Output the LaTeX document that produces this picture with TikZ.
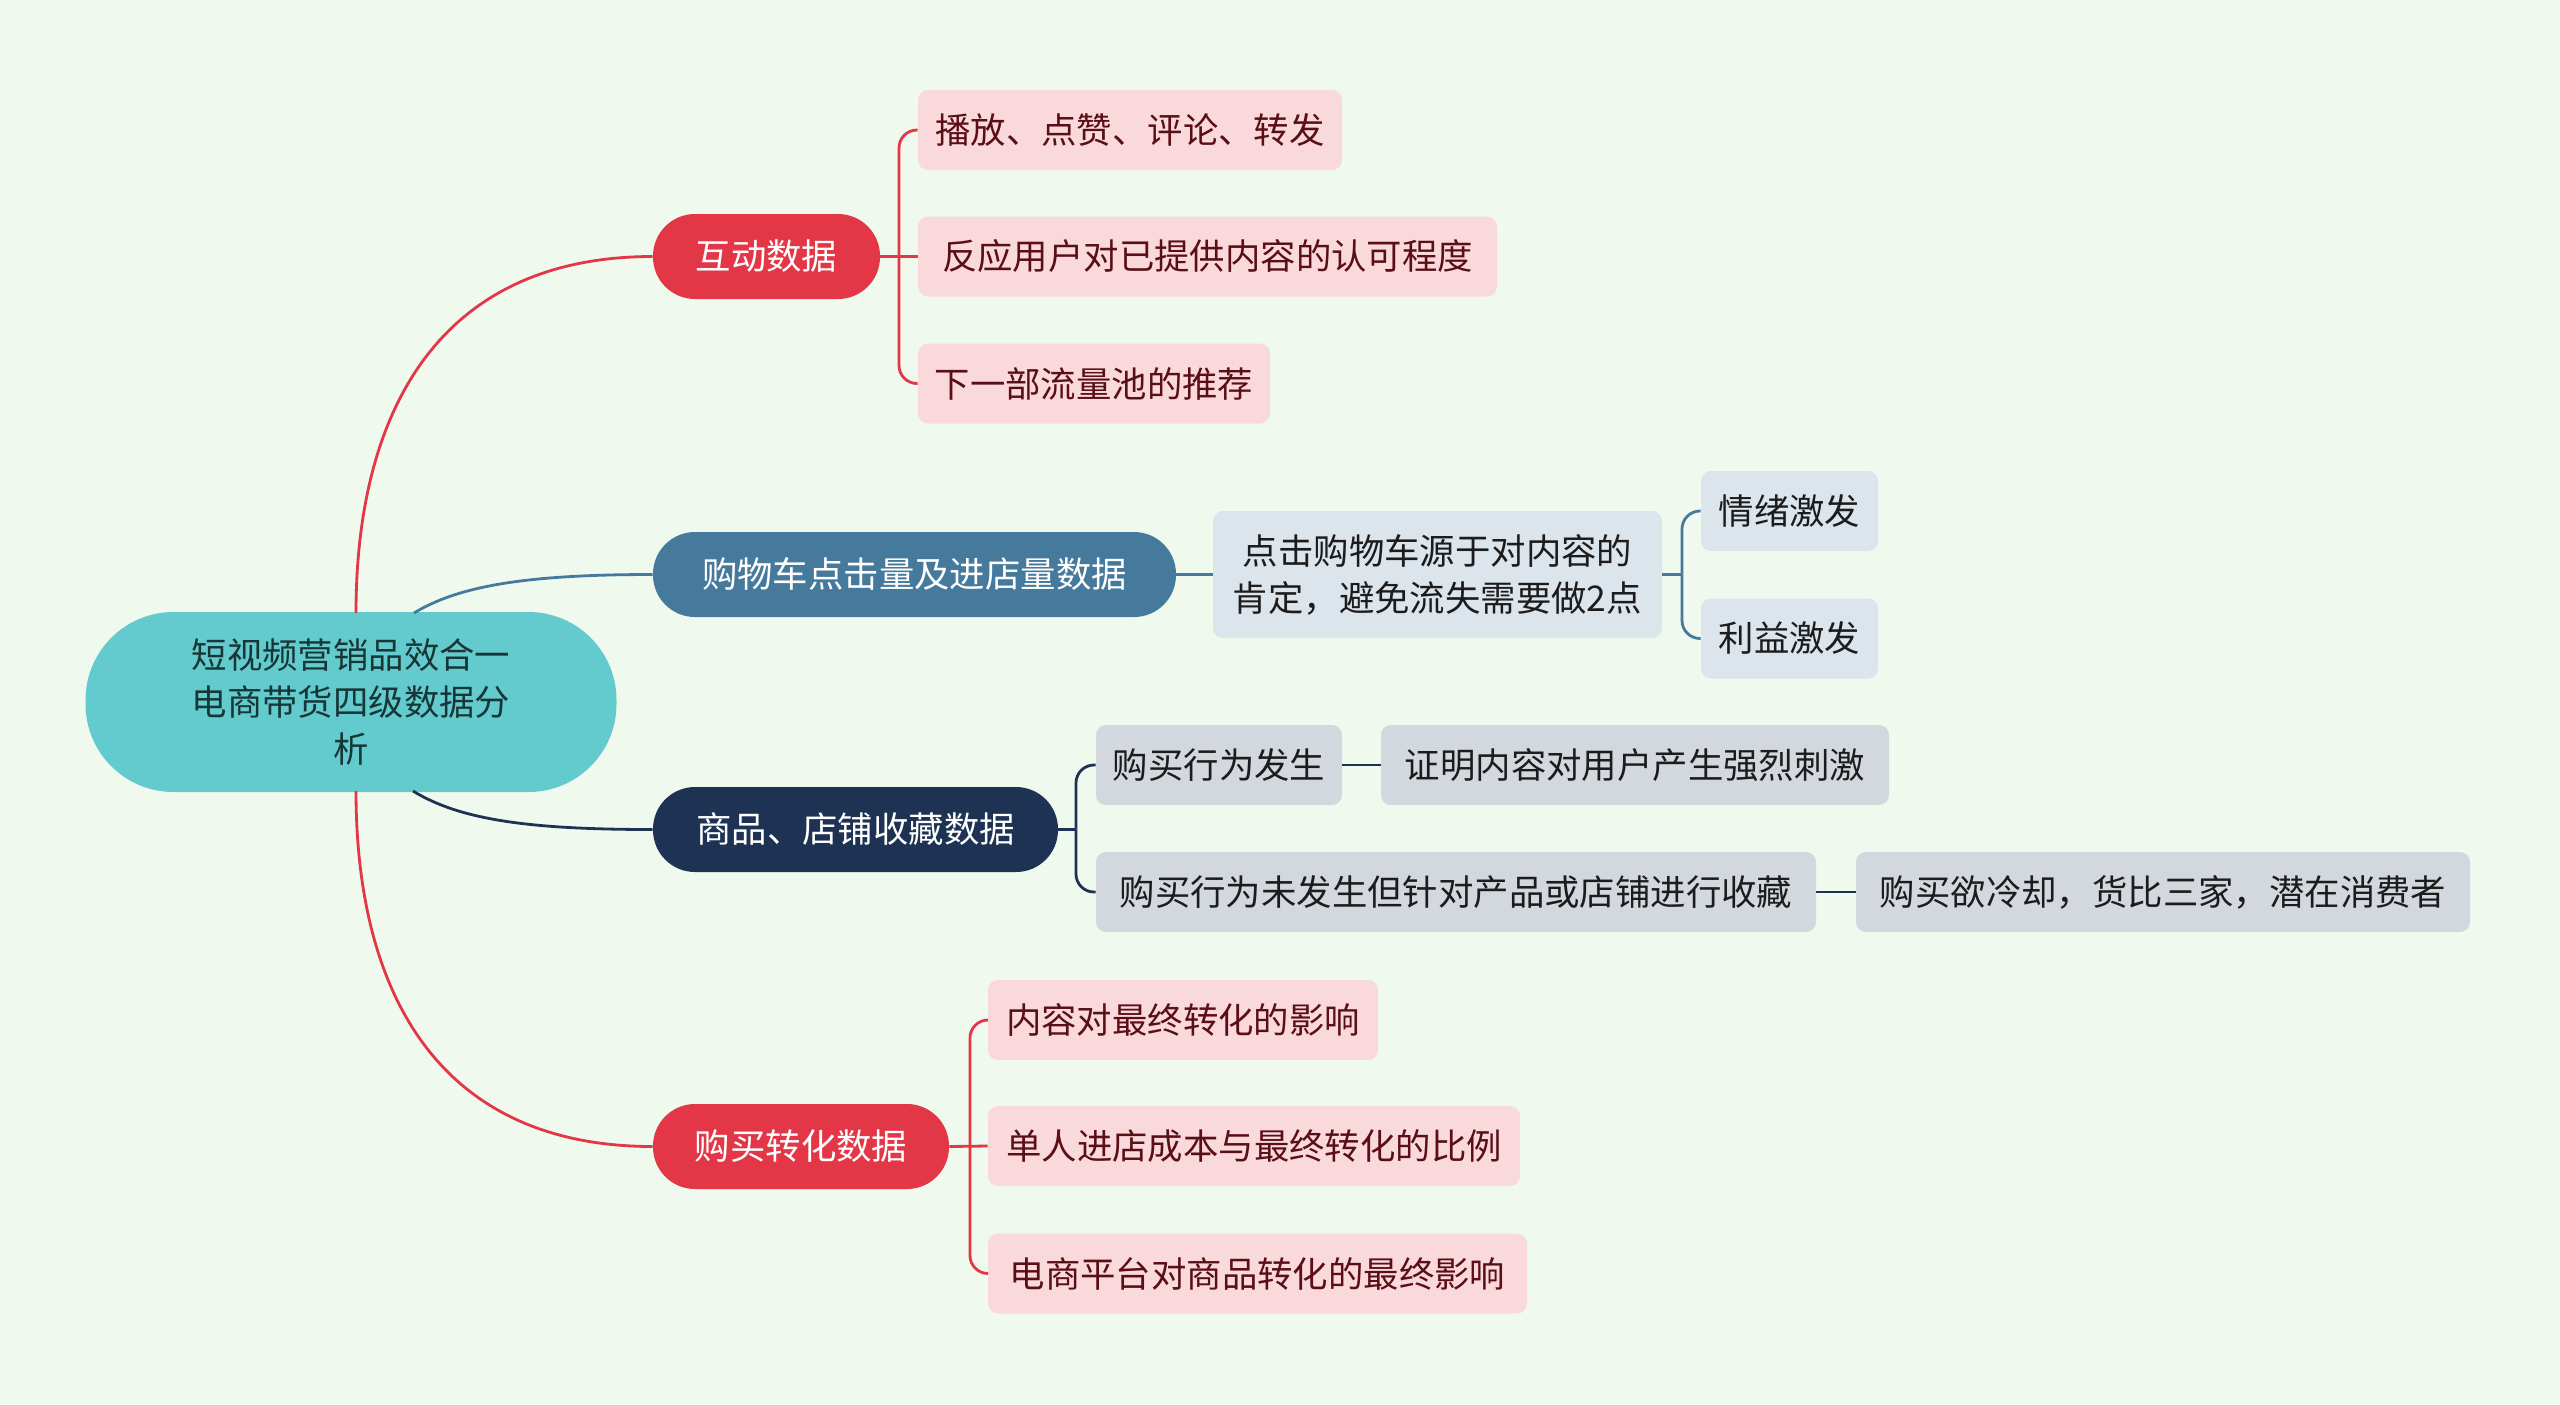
\documentclass[tikz,border=0pt]{standalone}
\usepackage{fontspec}
\setmainfont{Noto Sans CJK SC}
\definecolor{bg}{HTML}{F0F9EE}
\definecolor{rootc}{HTML}{63CBCE}
\definecolor{redc}{HTML}{E33747}
\definecolor{bluec}{HTML}{467A9D}
\definecolor{navyc}{HTML}{1E3354}
\definecolor{pinkc}{HTML}{FAD9DD}
\definecolor{pinktxt}{HTML}{5A0E16}
\definecolor{lbluec}{HTML}{DCE4EC}
\definecolor{greyc}{HTML}{D3D8DF}
\definecolor{darktxt}{HTML}{1C1C1C}
\definecolor{roottxt}{HTML}{173636}
\begin{document}
\begin{tikzpicture}[x=0.5pt,y=-0.5pt,
  txt/.style={font=\fontsize{17.7pt}{23.5pt}\selectfont},
  rootbox/.style={txt, fill=rootc, text=roottxt, rounded corners=44pt, minimum width=265.5pt, minimum height=90pt, inner sep=0pt, align=center},
  mainbox/.style={txt, fill=#1, text=white, rounded corners=21pt, minimum height=42.5pt, inner sep=0pt},
  kidbox/.style={txt, fill=#1, rounded corners=5pt, minimum height=40pt, inner sep=0pt, align=center},
  link/.style={draw=#1, line width=1.4pt},
  brk/.style={draw=#1, line width=1.4pt, rounded corners=9pt}
]
\useasboundingbox (0,0) rectangle (2560,1404);
\fill[bg] (0,0) rectangle (2560,1404);

% root
\node[rootbox] (root) at (351,702) {短视频营销品效合一\\电商带货四级数据分\\析};

% main branches
\node[mainbox=redc, minimum width=113.5pt] (hd) at (766.5,256.5) {互动数据};
\node[mainbox=bluec, minimum width=261.5pt] (gw) at (914.5,574.5) {购物车点击量及进店量数据};
\node[mainbox=navyc, minimum width=202.5pt] (sp) at (855.5,829.5) {商品、店铺收藏数据};
\node[mainbox=redc, minimum width=148pt] (zh) at (801,1146.5) {购买转化数据};

% children of 互动数据
\node[kidbox=pinkc, text=pinktxt, minimum width=212pt] (c11) at (1130,130) {播放、点赞、评论、转发};
\node[kidbox=pinkc, text=pinktxt, minimum width=289.5pt] (c12) at (1207.5,256.5) {反应用户对已提供内容的认可程度};
\node[kidbox=pinkc, text=pinktxt, minimum width=176pt] (c13) at (1094,383.5) {下一部流量池的推荐};

% children of 购物车
\node[kidbox=lbluec, text=darktxt, minimum width=224.5pt, minimum height=63.5pt] (c21) at (1437.5,574.5) {点击购物车源于对内容的\\肯定，避免流失需要做2点};
\node[kidbox=lbluec, text=darktxt, minimum width=88.5pt] (c211) at (1789.5,511) {情绪激发};
\node[kidbox=lbluec, text=darktxt, minimum width=88.5pt] (c212) at (1789.5,638.5) {利益激发};

% children of 商品
\node[kidbox=greyc, text=darktxt, minimum width=123pt] (c31) at (1219,765) {购买行为发生};
\node[kidbox=greyc, text=darktxt, minimum width=254pt] (c311) at (1635,765) {证明内容对用户产生强烈刺激};
\node[kidbox=greyc, text=darktxt, minimum width=360pt] (c32) at (1456,892) {购买行为未发生但针对产品或店铺进行收藏};
\node[kidbox=greyc, text=darktxt, minimum width=307pt] (c321) at (2163,892) {购买欲冷却，货比三家，潜在消费者};

% children of 购买转化
\node[kidbox=pinkc, text=pinktxt, minimum width=195pt] (c41) at (1183,1020) {内容对最终转化的影响};
\node[kidbox=pinkc, text=pinktxt, minimum width=266pt] (c42) at (1254,1146) {单人进店成本与最终转化的比例};
\node[kidbox=pinkc, text=pinktxt, minimum width=269.5pt] (c43) at (1257.5,1273.5) {电商平台对商品转化的最终影响};

% root connectors
\coordinate (r1) at (356,613);
\coordinate (r2) at (414,613);
\coordinate (r3) at (413,791);
\coordinate (r4) at (356,791);
\draw[link=redc] (r1) .. controls (356,410) and (440,256.5) .. (hd.west);
\draw[link=bluec] (r2) .. controls (460,585) and (530,574.5) .. (gw.west);
\draw[link=navyc] (r3) .. controls (460,820) and (530,829.5) .. (sp.west);
\draw[link=redc] (r4) .. controls (356,995) and (440,1146.5) .. (zh.west);

% brackets
\coordinate (b1) at (899,256.5);
\draw[link=redc] (hd.east) -- (c12.west);
\draw[brk=redc] (b1) |- (c11.west);
\draw[brk=redc] (b1) |- (c13.west);

\draw[link=bluec] (gw.east) -- (c21.west);
\coordinate (b2) at (1682,574.5);
\draw[link=bluec] (c21.east) -- (b2);
\draw[brk=bluec] (b2) |- (c211.west);
\draw[brk=bluec] (b2) |- (c212.west);

\coordinate (b3) at (1076,829.5);
\draw[link=navyc] (sp.east) -- (b3);
\draw[brk=navyc] (b3) |- (c31.west);
\draw[brk=navyc] (b3) |- (c32.west);
\draw[link=navyc] (c31.east) -- (c311.west);
\draw[link=navyc] (c32.east) -- (c321.west);

\coordinate (b4) at (970,1146.5);
\draw[link=redc] (zh.east) -- (c42.west);
\draw[brk=redc] (b4) |- (c41.west);
\draw[brk=redc] (b4) |- (c43.west);
\end{tikzpicture}
\end{document}
